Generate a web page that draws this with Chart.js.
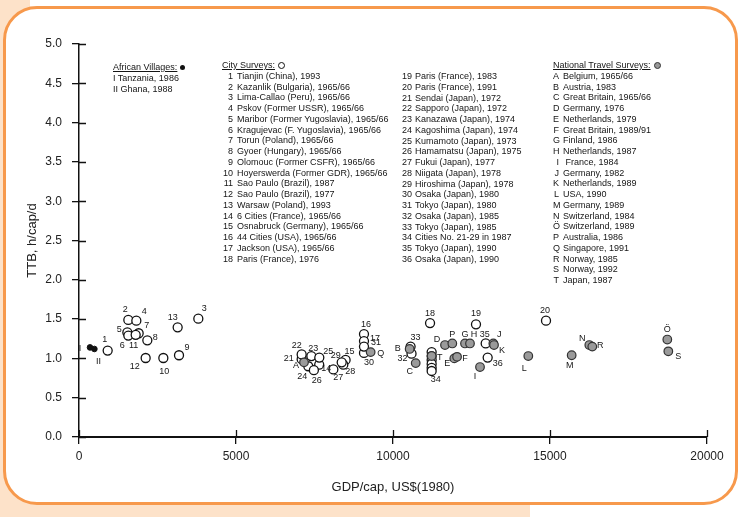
<!DOCTYPE html>
<html>
<head>
<meta charset="utf-8">
<script src="https://cdn.jsdelivr.net/npm/chart.js@4.4.0/dist/chart.umd.min.js"></script>
<style>
  html, body { margin: 0; padding: 0; background: #fff; }
  #page { position: relative; width: 741px; height: 517px; overflow: hidden; font-family: "Liberation Sans", Arial, sans-serif; }
  .peach { position: absolute; background: #fde2c9; }
  #frame { position: absolute; left: 3px; top: 6px; width: 735px; height: 499px; box-sizing: border-box;
           border: 3px solid #f7994c; border-radius: 34px; background: #fff; }
  #chart { position: absolute; left: 0; top: 0; }
  .key { position: absolute; font-size: 9px; line-height: 10.75px; color: #151515; white-space: nowrap; }
  .key .head { text-decoration: underline; }
  .num { display: inline-block; text-align: right; margin-right: 4px; }
  .dot { display: inline-block; width: 5px; height: 5px; border-radius: 50%; background: #111; vertical-align: 0; margin-left: 3px; }
  .ring { display: inline-block; width: 5px; height: 5px; border-radius: 50%; border: 1.3px solid #111; background: #fff; vertical-align: -1px; margin-left: 3px; }
  .grey { display: inline-block; width: 5px; height: 5px; border-radius: 50%; border: 1.3px solid #333; background: #999; vertical-align: -1px; margin-left: 3px; }
</style>
</head>
<body>
<div id="page">
  <div class="peach" style="left:0;top:0;width:30px;height:517px"></div>
  <div class="peach" style="left:0;top:480px;width:530px;height:37px"></div>
  <div id="frame"></div>
  <canvas id="chart" width="741" height="517"></canvas>
  <div class="key" id="keyAfrica" style="left:113px;top:62px"></div>
  <div class="key" id="keyCity1" style="left:222px;top:60px"></div>
  <div class="key" id="keyCity2" style="left:402px;top:71px"></div>
  <div class="key" id="keyNational" style="left:553px;top:60px"></div>
</div>
<script>
// African villages (filled dots)
const africaLabels = ['I', 'II'];
const africaGdp = [350, 490];
const africaTtb = [1.14, 1.12];
const africaNames = ['Tanzania, 1986', 'Ghana, 1988'];

// City surveys (open circles); the stack of '34' has several points
const cityLabels = ['1', '2', '3', '4', '5', '6', '7', '8', '9', '10', '11', '12',
    '13', '14', '15', '16', '17', '18', '19', '20', '21', '22', '23', '24',
    '25', '26', '27', '28', '29', '30', '31', '32', '33', '', '', '', '', '', '34', '35', '36'];
const cityGdp = [913, 1571, 3800, 1826, 1540, 1571, 1900, 2176, 3185, 2686, 1805, 2123,
    3142, 7650, 8490, 9076, 9076, 11180, 12643, 14873, 7091, 7091, 7400, 7303,
    7653, 7480, 8100, 8417, 8366, 9076, 9076, 10590, 10560, 11231, 11231, 11231, 11231, 11231, 11231, 12952, 13015];
const cityTtb = [1.10, 1.49, 1.505, 1.48, 1.33, 1.29, 1.32, 1.23, 1.04, 1.005, 1.30, 1.005,
    1.395, 0.92, 0.98, 1.31, 1.22, 1.45, 1.433, 1.48, 0.99, 1.05, 1.03, 0.90,
    1.01, 0.85, 0.86, 0.92, 0.95, 1.07, 1.15, 1.06, 1.15, 1.08, 1.03, 0.98, 0.93, 0.88, 0.84, 1.19, 1.01];
const cityNames = ['Tianjin (China), 1993', 'Kazanlik (Bulgaria), 1965/66', 'Lima-Callao (Peru), 1965/66',
    'Pskov (Former USSR), 1965/66', 'Maribor (Former Yugoslavia), 1965/66', 'Kragujevac (F. Yugoslavia), 1965/66',
    'Torun (Poland), 1965/66', 'Gyoer (Hungary), 1965/66', 'Olomouc (Former CSFR), 1965/66',
    'Hoyerswerda (Former GDR), 1965/66', 'Sao Paulo (Brazil), 1987', 'Sao Paulo (Brazil), 1977',
    'Warsaw (Poland), 1993', '6 Cities (France), 1965/66', 'Osnabruck (Germany), 1965/66',
    '44 Cities (USA), 1965/66', 'Jackson (USA), 1965/66', 'Paris (France), 1976',
    'Paris (France), 1983', 'Paris (France), 1991', 'Sendai (Japan), 1972', 'Sapporo (Japan), 1972',
    'Kanazawa (Japan), 1974', 'Kagoshima (Japan), 1974', 'Kumamoto (Japan), 1973',
    'Hamamatsu (Japan), 1975', 'Fukui (Japan), 1977', 'Niigata (Japan), 1978',
    'Hiroshima (Japan), 1978', 'Osaka (Japan), 1980', 'Tokyo (Japan), 1980', 'Osaka (Japan), 1985',
    'Tokyo (Japan), 1985', 'Cities No. 21-29 in 1987', 'Tokyo (Japan), 1990', 'Osaka (Japan), 1990'];

// National travel surveys (grey circles)
const nationalLabels = ['A', 'B', 'C', 'D', 'E', 'F', 'G', 'H', 'I', 'J',
    'K', 'L', 'M', 'N', 'Ö', 'P', 'Q', 'R', 'S', 'T'];
const nationalGdp = [7166, 10530, 10723, 11656, 11952, 12040, 12293, 12452, 12771, 13195,
    13217, 14309, 15690, 16252, 18736, 11889, 9288, 16347, 18768, 11231];
const nationalTtb = [0.95, 1.12, 0.94, 1.17, 1.00, 1.02, 1.19, 1.19, 0.89, 1.19,
    1.17, 1.03, 1.04, 1.17, 1.24, 1.19, 1.08, 1.15, 1.09, 1.03];
const nationalNames = ['Belgium, 1965/66', 'Austria, 1983', 'Great Britain, 1965/66', 'Germany, 1976',
    'Netherlands, 1979', 'Great Britain, 1989/91', 'Finland, 1986', 'Netherlands, 1987', ' France, 1984',
    'Germany, 1982', 'Netherlands, 1989', 'USA, 1990', 'Germany, 1989', 'Switzerland, 1984',
    'Switzerland, 1989', 'Australia, 1986', 'Singapore, 1991', 'Norway, 1985', 'Norway, 1992', 'Japan, 1987'];

const xTicks = [0, 5000, 10000, 15000, 20000];
const yTicks = [0, 0.5, 1, 1.5, 2, 2.5, 3, 3.5, 4, 4.5, 5];

// where each point's label sits, relative to the point (px)
const africaOffsets = { 'I': [-10, 1], 'II': [4, 13] };
const cityOffsets = {
    '1': [-3, -11], '2': [-3, -10], '3': [6, -10], '4': [8, -9], '5': [-8, -3], '6': [-6, 10],
    '7': [8, -8], '8': [8, -3], '9': [8, -8], '10': [1, 14], '11': [-2, 11], '12': [-11, 9],
    '13': [-5, -10], '14': [7, 4], '15': [4, -8], '16': [2, -10], '17': [11, -3], '18': [0, -10],
    '19': [0, -11], '20': [-1, -10], '21': [-13, -1], '22': [-5, -9], '23': [2, -8], '24': [-6, 10],
    '25': [9, -6], '26': [3, 10], '27': [5, 8], '28': [7, 7], '29': [-6, -7], '30': [5, 10],
    '31': [12, -4], '32': [-9, 5], '33': [5, -9], '34': [4, 9], '35': [-1, -9], '36': [10, 6]
};
const nationalOffsets = {
    'A': [-8, 3], 'B': [-12, 0], 'C': [-6, 8], 'D': [-8, -6], 'E': [-7, 5], 'F': [8, 2],
    'G': [0, -9], 'H': [4, -9], 'I': [-5, 9], 'J': [6, -9], 'K': [8, 5], 'L': [-4, 12],
    'M': [-2, 10], 'N': [-7, -7], 'Ö': [0, -10], 'P': [0, -9], 'Q': [10, 1], 'R': [8, -1],
    'S': [10, 5], 'T': [8, 1]
};

function toPoints(xs, ys) {
    return xs.map((x, i) => ({ x: x, y: ys[i] }));
}

// key blocks
function keyLine(mark, name, w) {
    return '<div><span class="num" style="width:' + w + 'px">' + mark + '</span>' + name + '</div>';
}
document.getElementById('keyAfrica').innerHTML =
    '<div><span class="head">African Villages:</span><span class="dot"></span></div>' +
    africaLabels.map((l, i) => '<div>' + l + ' ' + africaNames[i] + '</div>').join('');
document.getElementById('keyCity1').innerHTML =
    '<div><span class="head">City Surveys:</span><span class="ring"></span></div>' +
    cityNames.slice(0, 18).map((n, i) => keyLine(i + 1, n, 11)).join('');
document.getElementById('keyCity2').innerHTML =
    cityNames.slice(18).map((n, i) => keyLine(i + 19, n, 9)).join('');
document.getElementById('keyNational').innerHTML =
    '<div><span class="head">National Travel Surveys:</span><span class="grey"></span></div>' +
    nationalLabels.map((l, i) => keyLine(l, nationalNames[i], 6)).join('');

const pointLabels = {
    id: 'pointLabels',
    afterDatasetsDraw(chart) {
        const ctx = chart.ctx;
        ctx.save();
        ctx.font = '9px "Liberation Sans", Arial, sans-serif';
        ctx.fillStyle = '#151515';
        ctx.textAlign = 'center';
        ctx.textBaseline = 'middle';
        chart.data.datasets.forEach((ds, di) => {
            const meta = chart.getDatasetMeta(di);
            ds.pointNames.forEach((name, i) => {
                if (!name) return;
                const off = ds.offsets[name] || [0, -9];
                const el = meta.data[i];
                ctx.fillText(name, el.x + off[0], el.y + off[1]);
            });
        });
        ctx.restore();
    }
};

const crossTicks = {
    id: 'crossTicks',
    afterDraw(chart) {
        const { ctx, chartArea, scales } = chart;
        ctx.save();
        ctx.strokeStyle = '#111';
        ctx.lineWidth = 1.3;
        ctx.beginPath();
        scales.x.ticks.forEach(t => {
            const px = Math.round(scales.x.getPixelForValue(t.value)) + 0.5;
            ctx.moveTo(px, chartArea.bottom);
            ctx.lineTo(px, chartArea.bottom - 7);
        });
        scales.y.ticks.forEach(t => {
            const py = Math.round(scales.y.getPixelForValue(t.value)) + 0.5;
            ctx.moveTo(chartArea.left, py);
            ctx.lineTo(chartArea.left + 7, py);
        });
        ctx.stroke();
        ctx.restore();
    }
};

const tickFont = { family: '"Liberation Sans", Arial, sans-serif', size: 12 };
const titleFont = { family: '"Liberation Sans", Arial, sans-serif', size: 13 };

new Chart(document.getElementById('chart'), {
    type: 'scatter',
    data: {
        datasets: [
            {
                data: toPoints(nationalGdp, nationalTtb),
                pointNames: nationalLabels, offsets: nationalOffsets,
                pointRadius: 4.3, pointBackgroundColor: '#9a9a9a',
                pointBorderColor: '#333', pointBorderWidth: 1.2
            },
            {
                data: toPoints(africaGdp, africaTtb),
                pointNames: africaLabels, offsets: africaOffsets,
                pointRadius: 2.8, pointBackgroundColor: '#111',
                pointBorderColor: '#111', pointBorderWidth: 1
            },
            {
                data: toPoints(cityGdp, cityTtb),
                pointNames: cityLabels, offsets: cityOffsets,
                pointRadius: 4.5, pointBackgroundColor: '#fff',
                pointBorderColor: '#111', pointBorderWidth: 1.3
            }
        ]
    },
    options: {
        responsive: false,
        animation: false,
        events: [],
        layout: { padding: { top: 44, right: 34, left: 0, bottom: 0 } },
        plugins: { legend: { display: false }, tooltip: { enabled: false } },
        scales: {
            x: {
                type: 'linear', min: 0, max: 20000,
                afterBuildTicks: s => { s.ticks = xTicks.map(v => ({ value: v })); },
                afterFit: s => { s.height = 80; },
                ticks: { font: tickFont, color: '#222', padding: 5, maxRotation: 0, callback: v => String(v) },
                grid: { display: true, drawOnChartArea: false, drawTicks: true, tickLength: 7, color: '#111', lineWidth: 1.3 },
                border: { display: true, color: '#111', width: 2 },
                title: { display: true, text: 'GDP/cap, US$(1980)', font: titleFont, color: '#222', padding: { top: 0, bottom: 22 } }
            },
            y: {
                type: 'linear', min: 0, max: 5,
                afterBuildTicks: s => { s.ticks = yTicks.map(v => ({ value: v })); },
                afterFit: s => { s.width = 79; },
                ticks: { font: tickFont, color: '#222', padding: 10, callback: v => v.toFixed(1) },
                grid: { display: true, drawOnChartArea: false, drawTicks: true, tickLength: 7, color: '#111', lineWidth: 1.3 },
                border: { display: true, color: '#111', width: 1.5 },
                title: { display: true, text: 'TTB, h/cap/d', font: titleFont, color: '#222', padding: { top: 25, bottom: 0 } }
            }
        }
    },
    plugins: [pointLabels, crossTicks]
});
</script>
</body>
</html>
